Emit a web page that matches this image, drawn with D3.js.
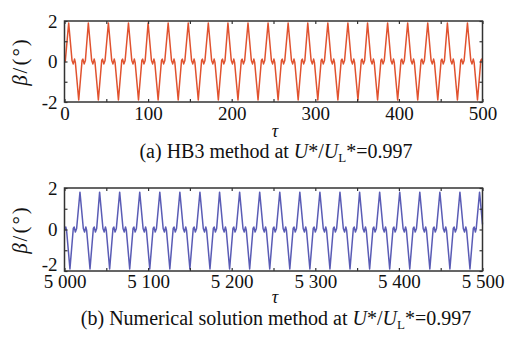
<!DOCTYPE html>
<html>
<head>
<meta charset="utf-8">
<script src="https://cdn.jsdelivr.net/npm/d3@7"></script>
</head>
<body style="margin:0;background:#fff">
<svg id="chart" width="511" height="341" style="display:block"></svg>
<script>
// (a) HB3 method, [tau, beta], one period per line
const hb3Series = [
  [0,-0.05],[1,0.05],
  [5,1.9],[9,0.05],[10.5,-0.12],[12,0.12],[13,-0.05],[17,-1.9],[21,0.05],[22,0.12],[23.5,-0.12],[25,0.05],
  [28.5,1.9],[32.5,0.05],[34,-0.12],[35.5,0.12],[36.5,-0.05],[40.5,-1.9],[44.5,0.05],[45.5,0.12],[47,-0.12],[48.5,0.05],
  [52.5,1.9],[56.5,0.05],[58,-0.12],[59.5,0.12],[60.5,-0.05],[64.5,-1.9],[68.5,0.05],[69.5,0.12],[71,-0.12],[72.5,0.05],
  [76.5,1.9],[80.5,0.05],[82,-0.12],[83.5,0.12],[84.5,-0.05],[88.5,-1.9],[92.5,0.05],[93.5,0.12],[95,-0.12],[96.5,0.05],
  [100,1.9],[104,0.05],[105.5,-0.12],[107,0.12],[108,-0.05],[112,-1.9],[116,0.05],[117,0.12],[118.5,-0.12],[120,0.05],
  [124,1.9],[128,0.05],[129.5,-0.12],[131,0.12],[132,-0.05],[136,-1.9],[140,0.05],[141,0.12],[142.5,-0.12],[144,0.05],
  [148,1.9],[152,0.05],[153.5,-0.12],[155,0.12],[156,-0.05],[160,-1.9],[164,0.05],[165,0.12],[166.5,-0.12],[168,0.05],
  [172,1.9],[176,0.05],[177.5,-0.12],[179,0.12],[180,-0.05],[184,-1.9],[188,0.05],[189,0.12],[190.5,-0.12],[192,0.05],
  [195.5,1.9],[199.5,0.05],[201,-0.12],[202.5,0.12],[203.5,-0.05],[207.5,-1.9],[211.5,0.05],[212.5,0.12],[214,-0.12],[215.5,0.05],
  [219.5,1.9],[223.5,0.05],[225,-0.12],[226.5,0.12],[227.5,-0.05],[231.5,-1.9],[235.5,0.05],[236.5,0.12],[238,-0.12],[239.5,0.05],
  [243.5,1.9],[247.5,0.05],[249,-0.12],[250.5,0.12],[251.5,-0.05],[255.5,-1.9],[259.5,0.05],[260.5,0.12],[262,-0.12],[263.5,0.05],
  [267.5,1.9],[271.5,0.05],[273,-0.12],[274.5,0.12],[275.5,-0.05],[279.5,-1.9],[283.5,0.05],[284.5,0.12],[286,-0.12],[287.5,0.05],
  [291,1.9],[295,0.05],[296.5,-0.12],[298,0.12],[299,-0.05],[303,-1.9],[307,0.05],[308,0.12],[309.5,-0.12],[311,0.05],
  [315,1.9],[319,0.05],[320.5,-0.12],[322,0.12],[323,-0.05],[327,-1.9],[331,0.05],[332,0.12],[333.5,-0.12],[335,0.05],
  [339,1.9],[343,0.05],[344.5,-0.12],[346,0.12],[347,-0.05],[351,-1.9],[355,0.05],[356,0.12],[357.5,-0.12],[359,0.05],
  [362.5,1.9],[366.5,0.05],[368,-0.12],[369.5,0.12],[370.5,-0.05],[374.5,-1.9],[378.5,0.05],[379.5,0.12],[381,-0.12],[382.5,0.05],
  [386.5,1.9],[390.5,0.05],[392,-0.12],[393.5,0.12],[394.5,-0.05],[398.5,-1.9],[402.5,0.05],[403.5,0.12],[405,-0.12],[406.5,0.05],
  [410.5,1.9],[414.5,0.05],[416,-0.12],[417.5,0.12],[418.5,-0.05],[422.5,-1.9],[426.5,0.05],[427.5,0.12],[429,-0.12],[430.5,0.05],
  [434.5,1.9],[438.5,0.05],[440,-0.12],[441.5,0.12],[442.5,-0.05],[446.5,-1.9],[450.5,0.05],[451.5,0.12],[453,-0.12],[454.5,0.05],
  [458,1.9],[462,0.05],[463.5,-0.12],[465,0.12],[466,-0.05],[470,-1.9],[474,0.05],[475,0.12],[476.5,-0.12],[478,0.05],
  [482,1.9],[486,0.05],[487.5,-0.12],[489,0.12],[490,-0.05],[494,-1.9],[498,0.05],[499,0.12],[500,0]
]

// (b) numerical solution, [tau, beta]
const numSeries = [
  [5000,-0.05],[5001.5,0.12],[5002.5,-0.05],[5006.5,-1.9],[5010.5,0.05],[5011.5,0.12],[5013,-0.12],[5014.5,0.05],
  [5018.5,1.8],[5022.5,0.05],[5024,-0.12],[5025.5,0.12],[5026.5,-0.05],[5030.5,-1.9],[5034.5,0.05],[5035.5,0.12],[5037,-0.12],[5038.5,0.05],
  [5042,1.8],[5046,0.05],[5047.5,-0.12],[5049,0.12],[5050,-0.05],[5054,-1.9],[5058,0.05],[5059,0.12],[5060.5,-0.12],[5062,0.05],
  [5066,1.8],[5070,0.05],[5071.5,-0.12],[5073,0.12],[5074,-0.05],[5078,-1.9],[5082,0.05],[5083,0.12],[5084.5,-0.12],[5086,0.05],
  [5090,1.8],[5094,0.05],[5095.5,-0.12],[5097,0.12],[5098,-0.05],[5102,-1.9],[5106,0.05],[5107,0.12],[5108.5,-0.12],[5110,0.05],
  [5114,1.8],[5118,0.05],[5119.5,-0.12],[5121,0.12],[5122,-0.05],[5126,-1.9],[5130,0.05],[5131,0.12],[5132.5,-0.12],[5134,0.05],
  [5138,1.8],[5142,0.05],[5143.5,-0.12],[5145,0.12],[5146,-0.05],[5150,-1.9],[5154,0.05],[5155,0.12],[5156.5,-0.12],[5158,0.05],
  [5162,1.8],[5166,0.05],[5167.5,-0.12],[5169,0.12],[5170,-0.05],[5174,-1.9],[5178,0.05],[5179,0.12],[5180.5,-0.12],[5182,0.05],
  [5185.5,1.8],[5189.5,0.05],[5191,-0.12],[5192.5,0.12],[5193.5,-0.05],[5197.5,-1.9],[5201.5,0.05],[5202.5,0.12],[5204,-0.12],[5205.5,0.05],
  [5209.5,1.8],[5213.5,0.05],[5215,-0.12],[5216.5,0.12],[5217.5,-0.05],[5221.5,-1.9],[5225.5,0.05],[5226.5,0.12],[5228,-0.12],[5229.5,0.05],
  [5233.5,1.8],[5237.5,0.05],[5239,-0.12],[5240.5,0.12],[5241.5,-0.05],[5245.5,-1.9],[5249.5,0.05],[5250.5,0.12],[5252,-0.12],[5253.5,0.05],
  [5257.5,1.8],[5261.5,0.05],[5263,-0.12],[5264.5,0.12],[5265.5,-0.05],[5269.5,-1.9],[5273.5,0.05],[5274.5,0.12],[5276,-0.12],[5277.5,0.05],
  [5281.5,1.8],[5285.5,0.05],[5287,-0.12],[5288.5,0.12],[5289.5,-0.05],[5293.5,-1.9],[5297.5,0.05],[5298.5,0.12],[5300,-0.12],[5301.5,0.05],
  [5305.5,1.8],[5309.5,0.05],[5311,-0.12],[5312.5,0.12],[5313.5,-0.05],[5317.5,-1.9],[5321.5,0.05],[5322.5,0.12],[5324,-0.12],[5325.5,0.05],
  [5329.5,1.8],[5333.5,0.05],[5335,-0.12],[5336.5,0.12],[5337.5,-0.05],[5341.5,-1.9],[5345.5,0.05],[5346.5,0.12],[5348,-0.12],[5349.5,0.05],
  [5353,1.8],[5357,0.05],[5358.5,-0.12],[5360,0.12],[5361,-0.05],[5365,-1.9],[5369,0.05],[5370,0.12],[5371.5,-0.12],[5373,0.05],
  [5377,1.8],[5381,0.05],[5382.5,-0.12],[5384,0.12],[5385,-0.05],[5389,-1.9],[5393,0.05],[5394,0.12],[5395.5,-0.12],[5397,0.05],
  [5401,1.8],[5405,0.05],[5406.5,-0.12],[5408,0.12],[5409,-0.05],[5413,-1.9],[5417,0.05],[5418,0.12],[5419.5,-0.12],[5421,0.05],
  [5425,1.8],[5429,0.05],[5430.5,-0.12],[5432,0.12],[5433,-0.05],[5437,-1.9],[5441,0.05],[5442,0.12],[5443.5,-0.12],[5445,0.05],
  [5449,1.8],[5453,0.05],[5454.5,-0.12],[5456,0.12],[5457,-0.05],[5461,-1.9],[5465,0.05],[5466,0.12],[5467.5,-0.12],[5469,0.05],
  [5473,1.8],[5477,0.05],[5478.5,-0.12],[5480,0.12],[5481,-0.05],[5485,-1.9],[5489,0.05],[5490,0.12],[5491.5,-0.12],[5492.5,0.05],
  [5496.5,1.8],[5500,0.25]
]

// ticks
const xTicksA = [0, 50, 100, 150, 200, 250, 300, 350, 400, 450, 500]
const xLabelsA = { 0: '0', 100: '100', 200: '200', 300: '300', 400: '400', 500: '500' }
const xTicksB = [5000, 5050, 5100, 5150, 5200, 5250, 5300, 5350, 5400, 5450, 5500]
const xLabelsB = { 5000: '5 000', 5100: '5 100', 5200: '5 200', 5300: '5 300', 5400: '5 400', 5500: '5 500' }
const yTicks = [-2, -1, 0, 1, 2]
const yLabels = { '-2': '-2', '0': '0', '2': '2' }

const serif = '"Liberation Serif"'
const svg = d3.select('#chart')

const left = 64.5, right = 482.5

function drawPanel (opt) {
  const x = d3.scaleLinear().domain(opt.domain).range([left, right])
  const y = d3.scaleLinear().domain([-2, 2]).range([opt.bottom, opt.top])
  const g = svg.append('g')

  // curve
  const line = d3.line().x(d => x(d[0])).y(d => y(d[1]))
  g.append('path')
    .datum(opt.data)
    .attr('d', line)
    .attr('fill', 'none')
    .attr('stroke', opt.color)
    .attr('stroke-width', 1.5)
    .attr('stroke-linejoin', 'round')

  // axes, ticks pointing in
  const axes = [
    [d3.axisBottom(x).tickValues(opt.xTicks).tickSize(-3).tickPadding(opt.xPad)
      .tickFormat(d => opt.xLabels[d] || ''), `translate(0,${opt.bottom})`],
    [d3.axisTop(x).tickValues(opt.xTicks).tickSize(-3).tickFormat(''), `translate(0,${opt.top})`],
    [d3.axisLeft(y).tickValues(yTicks).tickSize(-3).tickPadding(7)
      .tickFormat(d => yLabels[d] || ''), `translate(${left},0)`],
    [d3.axisRight(y).tickValues(yTicks).tickSize(-3).tickFormat(''), `translate(${right},0)`]
  ]
  axes.forEach(([axis, tr], i) => {
    const a = g.append('g').attr('transform', tr).call(axis)
    a.attr('font-size', 19)
    a.select('.domain').remove()
    a.selectAll('line').attr('stroke', '#333').attr('stroke-width', 1.2)
    a.selectAll('text').attr('fill', '#111').style('font-family', serif)
    // bottom panel: lift the -2 label off the x labels
    if (i === 2 && opt.liftMin) {
      a.selectAll('.tick').filter(d => d === -2).select('text').attr('dy', '-0.05em')
    }
  })

  // frame
  g.append('rect')
    .attr('x', left).attr('y', opt.top)
    .attr('width', right - left).attr('height', opt.bottom - opt.top)
    .attr('fill', 'none').attr('stroke', '#333').attr('stroke-width', 1.5)

  // y title
  const yt = g.append('text')
    .attr('transform', `translate(27,${(opt.top + opt.bottom) / 2}) rotate(-90)`)
    .attr('text-anchor', 'middle')
    .style('font-family', serif)
    .attr('font-size', 21)
    .attr('letter-spacing', 2)
    .attr('fill', '#111')
  yt.append('tspan').attr('font-style', 'italic').text('β')
  yt.append('tspan').text('/(°)')

  // x title
  g.append('text')
    .attr('x', 275).attr('y', opt.tauY)
    .attr('text-anchor', 'middle')
    .style('font-family', serif)
    .attr('font-size', 18)
    .attr('font-style', 'italic')
    .attr('fill', '#111')
    .text('τ')

  // caption
  const cap = g.append('text')
    .attr('x', 276).attr('y', opt.capY)
    .attr('text-anchor', 'middle')
    .style('font-family', serif)
    .attr('font-size', 20)
    .attr('fill', '#111')
  cap.append('tspan').text(opt.caption + ' at ')
  cap.append('tspan').attr('font-style', 'italic').text('U')
  cap.append('tspan').text('*/')
  cap.append('tspan').attr('font-style', 'italic').text('U')
  cap.append('tspan').attr('font-size', 13).attr('dy', 4).text('L')
  cap.append('tspan').attr('dy', -4).text('*=0.997')
}

drawPanel({
  data: hb3Series, domain: [0, 500], top: 21, bottom: 102,
  xTicks: xTicksA, xLabels: xLabelsA, xPad: 5,
  color: '#e0522f', tauY: 137, capY: 158, caption: '(a) HB3 method'
})

drawPanel({
  data: numSeries, domain: [5000, 5500], top: 188, bottom: 271,
  xTicks: xTicksB, xLabels: xLabelsB, xPad: 3, liftMin: true,
  color: '#5a5cb5', tauY: 303, capY: 325, caption: '(b) Numerical solution method'
})
</script>
</body>
</html>
